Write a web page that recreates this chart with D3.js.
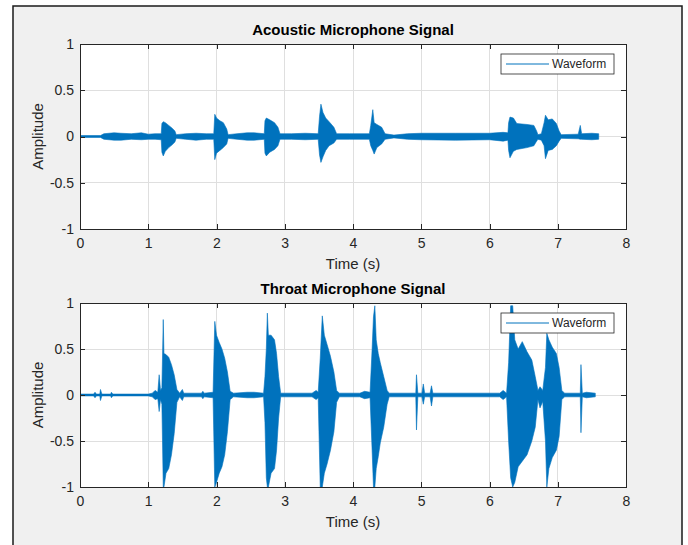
<!DOCTYPE html>
<html>
<head>
<meta charset="utf-8">
<script src="https://cdn.jsdelivr.net/npm/d3@7"></script>
<style>
  body { margin: 0; background: #fff; }
  svg { display: block; font-family: "Liberation Sans", Arial, sans-serif; }
</style>
</head>
<body>
<div id="chart"></div>
<script>
// Envelope of each waveform (upper / lower amplitude) at breakpoints in seconds
var acTime  = [0, 0.30, 0.35, 0.50, 0.60, 0.75, 0.90, 1.00, 1.10, 1.19, 1.20, 1.22, 1.25, 1.30, 1.35, 1.39, 1.41, 1.55, 1.70, 1.85,
               1.96, 1.975, 2.00, 2.05, 2.10, 2.15, 2.17, 2.30, 2.45, 2.55, 2.70, 2.71, 2.73, 2.78, 2.85, 2.90, 2.93, 3.10, 3.30, 3.49,
               3.51, 3.53, 3.56, 3.60, 3.65, 3.72, 3.76, 3.95, 4.24, 4.26, 4.29, 4.31, 4.35, 4.42, 4.47, 4.60, 4.80, 5.00, 5.50, 6.00,
               6.20, 6.27, 6.28, 6.30, 6.35, 6.40, 6.55, 6.65, 6.69, 6.71, 6.76, 6.80, 6.82, 6.86, 6.92, 6.98, 7.02, 7.05, 7.30, 7.33,
               7.35, 7.50, 7.60];
var acUpper = [0.01, 0.01, 0.03, 0.04, 0.035, 0.03, 0.04, 0.025, 0.03, 0.03, 0.14, 0.16, 0.15, 0.12, 0.09, 0.06, 0.02, 0.03, 0.035, 0.03,
               0.03, 0.24, 0.20, 0.17, 0.15, 0.08, 0.02, 0.03, 0.04, 0.04, 0.03, 0.17, 0.20, 0.18, 0.15, 0.10, 0.03, 0.03, 0.035, 0.03,
               0.22, 0.35, 0.26, 0.20, 0.16, 0.10, 0.03, 0.03, 0.03, 0.12, 0.29, 0.15, 0.13, 0.10, 0.03, 0.015, 0.03, 0.035, 0.035, 0.035,
               0.045, 0.04, 0.15, 0.21, 0.20, 0.14, 0.13, 0.12, 0.06, 0.02, 0.03, 0.15, 0.23, 0.18, 0.19, 0.14, 0.06, 0.02, 0.025, 0.12,
               0.03, 0.035, 0.03];
var acLower = [-0.01, -0.01, -0.03, -0.04, -0.04, -0.03, -0.035, -0.03, -0.03, -0.035, -0.17, -0.21, -0.16, -0.12, -0.09, -0.06, -0.02, -0.03, -0.04, -0.03,
               -0.03, -0.25, -0.18, -0.15, -0.12, -0.08, -0.02, -0.03, -0.04, -0.04, -0.03, -0.18, -0.21, -0.17, -0.14, -0.10, -0.03, -0.03, -0.035, -0.03,
               -0.20, -0.28, -0.22, -0.15, -0.10, -0.07, -0.03, -0.03, -0.03, -0.10, -0.15, -0.19, -0.12, -0.08, -0.03, -0.015, -0.03, -0.035, -0.04, -0.035,
               -0.05, -0.04, -0.15, -0.23, -0.16, -0.14, -0.12, -0.10, -0.05, -0.03, -0.04, -0.10, -0.24, -0.15, -0.14, -0.10, -0.05, -0.02, -0.025, -0.03,
               -0.03, -0.035, -0.03];

var thTime  = [0, 0.20, 0.22, 0.24, 0.29, 0.30, 0.32, 0.45, 0.46, 0.48, 1.00, 1.06, 1.10, 1.14, 1.16, 1.18, 1.20, 1.22, 1.23, 1.26,
               1.30, 1.34, 1.38, 1.42, 1.46, 1.50, 1.52, 1.78, 1.80, 1.82, 1.95, 1.975, 2.00, 2.04, 2.08, 2.12, 2.16, 2.20, 2.25, 2.45,
               2.55, 2.69, 2.71, 2.73, 2.745, 2.76, 2.80, 2.85, 2.88, 2.91, 2.94, 3.40, 3.46, 3.49, 3.52, 3.55, 3.58, 3.62, 3.67, 3.72,
               3.76, 3.80, 4.10, 4.17, 4.25, 4.28, 4.30, 4.32, 4.34, 4.37, 4.40, 4.45, 4.50, 4.53, 4.92, 4.93, 4.95, 5.01, 5.03, 5.05,
               5.13, 5.15, 5.17, 6.15, 6.20, 6.25, 6.28, 6.31, 6.34, 6.37, 6.42, 6.48, 6.55, 6.62, 6.67, 6.71, 6.74, 6.78, 6.82, 6.84,
               6.87, 6.92, 6.98, 7.02, 7.06, 7.10, 7.33, 7.34, 7.36, 7.42, 7.55];
var thUpper = [0.01, 0.01, 0.03, 0.01, 0.01, 0.06, 0.01, 0.01, 0.03, 0.01, 0.01, 0.02, 0.05, 0.03, 0.22, 0.05, 0.08, 0.82, 0.45, 0.44,
               0.41, 0.33, 0.22, 0.06, 0.02, 0.06, 0.02, 0.02, 0.04, 0.02, 0.03, 0.80, 0.65, 0.57, 0.50, 0.40, 0.25, 0.04, 0.02, 0.03,
               0.03, 0.02, 0.20, 0.50, 0.89, 0.65, 0.65, 0.60, 0.45, 0.20, 0.02, 0.02, 0.05, 0.03, 0.40, 0.86, 0.65, 0.55, 0.42, 0.25,
               0.05, 0.02, 0.02, 0.04, 0.03, 0.50, 0.85, 0.97, 0.60, 0.45, 0.35, 0.20, 0.05, 0.02, 0.02, 0.22, 0.02, 0.02, 0.12, 0.02,
               0.02, 0.10, 0.02, 0.02, 0.05, 0.02, 0.35, 0.97, 0.97, 0.60, 0.50, 0.58, 0.47, 0.38, 0.20, 0.05, 0.09, 0.05, 0.30, 0.67,
               0.60, 0.52, 0.45, 0.30, 0.05, 0.02, 0.02, 0.33, 0.02, 0.03, 0.02];
var thLower = [-0.01, -0.01, -0.03, -0.01, -0.01, -0.06, -0.01, -0.01, -0.03, -0.01, -0.01, -0.02, -0.05, -0.04, -0.18, -0.05, -0.10, -1.0, -1.0, -0.85,
               -0.80, -0.65, -0.42, -0.08, -0.02, -0.06, -0.02, -0.02, -0.04, -0.02, -0.03, -1.0, -0.95, -0.85, -0.78, -0.65, -0.40, -0.05, -0.02, -0.03,
               -0.03, -0.02, -0.30, -0.90, -1.0, -1.0, -0.85, -0.80, -0.60, -0.25, -0.02, -0.02, -0.05, -0.03, -1.0, -1.0, -0.85, -0.75, -0.60, -0.40,
               -0.08, -0.02, -0.02, -0.04, -0.03, -0.60, -1.0, -1.0, -0.80, -0.67, -0.52, -0.35, -0.10, -0.02, -0.02, -0.38, -0.02, -0.02, -0.10, -0.02,
               -0.02, -0.12, -0.02, -0.02, -0.05, -0.02, -0.50, -0.90, -1.0, -0.95, -0.78, -0.72, -0.65, -0.50, -0.35, -0.05, -0.14, -0.07, -0.50, -1.0,
               -0.80, -0.68, -0.60, -0.45, -0.05, -0.02, -0.02, -0.41, -0.02, -0.03, -0.02];

var xTicks = [0, 1, 2, 3, 4, 5, 6, 7, 8];
var yTicks = [-1, -0.5, 0, 0.5, 1];
var panelTitles = ["Acoustic Microphone Signal", "Throat Microphone Signal"];

var width = 688, height = 545;
var blue = "#0072BD", axisColor = "#262626";

var svg = d3.select("#chart").append("svg")
    .attr("width", width)
    .attr("height", height);

// Figure background with its dark frame
svg.append("rect")
    .attr("x", 13).attr("y", 6)
    .attr("width", 669).attr("height", 560)
    .attr("fill", "#f0f0f0")
    .attr("stroke", "#1a1a1a")
    .attr("stroke-width", 1.5);

function drawPanel(top, bottom, title, times, upper, lower, idx) {
    var left = 80, right = 626;
    var x = d3.scaleLinear().domain([0, 8]).range([left, right]);
    var y = d3.scaleLinear().domain([-1, 1]).range([bottom, top]);

    var g = svg.append("g");

    // plot background
    g.append("rect")
        .attr("x", left).attr("y", top)
        .attr("width", right - left).attr("height", bottom - top)
        .attr("fill", "#fff");

    // grid
    g.selectAll(".vgrid").data(xTicks).enter().append("line")
        .attr("x1", d => x(d)).attr("x2", d => x(d))
        .attr("y1", top).attr("y2", bottom)
        .attr("stroke", "#dfdfdf").attr("shape-rendering", "crispEdges");
    g.selectAll(".hgrid").data(yTicks).enter().append("line")
        .attr("x1", left).attr("x2", right)
        .attr("y1", d => y(d)).attr("y2", d => y(d))
        .attr("stroke", "#dfdfdf").attr("shape-rendering", "crispEdges");

    // waveform envelope
    var pts = times.map((t, i) => ({t: t, hi: upper[i], lo: lower[i]}));
    g.append("clipPath").attr("id", "clip" + idx)
        .append("rect")
        .attr("x", left).attr("y", top)
        .attr("width", right - left).attr("height", bottom - top);

    var area = d3.area()
        .x(d => x(d.t))
        .y0(d => y(d.lo))
        .y1(d => y(d.hi));
    g.append("path")
        .attr("clip-path", "url(#clip" + idx + ")")
        .attr("d", area(pts))
        .attr("fill", blue)
        .attr("stroke", blue)
        .attr("stroke-width", 0.6);

    // axes, ticks pointing inwards like MATLAB
    function styleAxis(sel) {
        sel.selectAll("path").attr("stroke", axisColor).attr("shape-rendering", "crispEdges");
        sel.selectAll("line").attr("stroke", axisColor).attr("shape-rendering", "crispEdges");
        sel.selectAll("text").attr("fill", axisColor).style("font-size", "14px")
            .style("font-family", "'Liberation Sans', Arial, sans-serif");
    }
    g.append("g").attr("transform", "translate(0," + bottom + ")")
        .call(d3.axisBottom(x).tickValues(xTicks).tickSize(-5).tickSizeOuter(0).tickPadding(9))
        .call(styleAxis);
    g.append("g").attr("transform", "translate(0," + top + ")")
        .call(d3.axisTop(x).tickValues(xTicks).tickSize(-5).tickSizeOuter(0).tickFormat(""))
        .call(styleAxis);
    g.append("g").attr("transform", "translate(" + left + ",0)")
        .call(d3.axisLeft(y).tickValues(yTicks).tickSize(-5).tickSizeOuter(0).tickPadding(6).tickFormat(d => String(d)))
        .call(styleAxis);
    g.append("g").attr("transform", "translate(" + right + ",0)")
        .call(d3.axisRight(y).tickValues(yTicks).tickSize(-5).tickSizeOuter(0).tickFormat(""))
        .call(styleAxis);

    // title and labels
    g.append("text")
        .attr("x", (left + right) / 2).attr("y", top - 9)
        .attr("text-anchor", "middle")
        .attr("font-weight", "bold").attr("font-size", 15)
        .attr("fill", "#000")
        .text(title);
    g.append("text")
        .attr("x", (left + right) / 2).attr("y", bottom + 40)
        .attr("text-anchor", "middle")
        .attr("font-size", 15).attr("fill", axisColor)
        .text("Time (s)");
    g.append("text")
        .attr("transform", "translate(43," + (top + bottom) / 2 + ") rotate(-90)")
        .attr("text-anchor", "middle")
        .attr("font-size", 15).attr("fill", axisColor)
        .text("Amplitude");

    // legend
    var lx = 501, ly = top + 10;
    g.append("rect")
        .attr("x", lx).attr("y", ly)
        .attr("width", 113).attr("height", 20)
        .attr("fill", "#fff").attr("stroke", axisColor).attr("stroke-width", 0.8);
    g.append("line")
        .attr("x1", lx + 5).attr("x2", lx + 48)
        .attr("y1", ly + 10).attr("y2", ly + 10)
        .attr("stroke", blue).attr("stroke-width", 1);
    g.append("text")
        .attr("x", lx + 51).attr("y", ly + 10).attr("dy", "0.35em")
        .attr("font-size", 12).attr("fill", axisColor)
        .text("Waveform");
}

drawPanel(44, 229, panelTitles[0], acTime, acUpper, acLower, 0);
drawPanel(303, 487, panelTitles[1], thTime, thUpper, thLower, 1);
</script>
</body>
</html>
